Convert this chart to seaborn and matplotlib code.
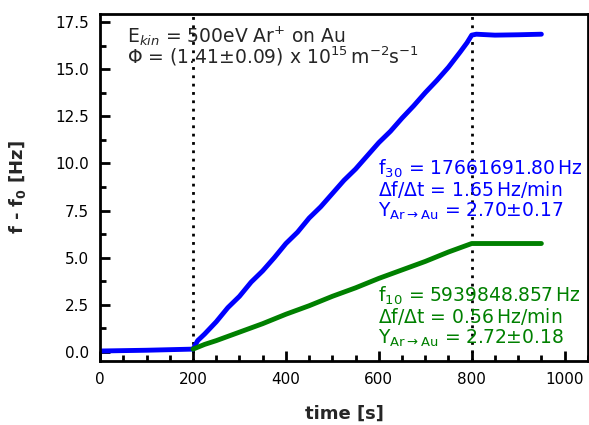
import matplotlib
matplotlib.use("Agg")
import matplotlib.pyplot as plt
import seaborn as sns
import pandas as pd
from matplotlib.ticker import MultipleLocator

# data
t_blue = [0, 50, 100, 150, 200, 210, 225, 250, 275, 300, 325, 350, 375, 400, 425, 450,
          475, 500, 525, 550, 575, 600, 625, 650, 675, 700, 725, 750, 775, 790, 800,
          810, 850, 900, 950]
f_blue = [0.05, 0.07, 0.09, 0.12, 0.15, 0.6, 0.95, 1.6, 2.35, 2.95, 3.7, 4.3, 5.0, 5.75,
          6.35, 7.1, 7.7, 8.4, 9.1, 9.7, 10.4, 11.1, 11.7, 12.4, 13.05, 13.75, 14.4,
          15.1, 15.9, 16.4, 16.8, 16.85, 16.8, 16.82, 16.85]
t_green = [200, 225, 250, 300, 350, 400, 450, 500, 550, 600, 650, 700, 750, 800, 950]
f_green = [0.15, 0.4, 0.6, 1.05, 1.5, 2.0, 2.45, 2.95, 3.4, 3.9, 4.35, 4.8, 5.3, 5.75, 5.75]
vlines = [200, 800]

text_top = [r"E$_{\mathit{kin}}$ = 500eV Ar$^{+}$ on Au",
            r"$\Phi$ = (1.41$\pm$0.09) x 10$^{15}$$\,$m$^{-2}$s$^{-1}$"]
text_blue = [r"f$_{30}$ = 17661691.80$\,$Hz",
             r"$\Delta$f/$\Delta$t = 1.65$\,$Hz/min",
             r"Y$_{\mathrm{Ar\rightarrow Au}}$ = 2.70$\pm$0.17"]
text_green = [r"f$_{10}$ = 5939848.857$\,$Hz",
              r"$\Delta$f/$\Delta$t = 0.56$\,$Hz/min",
              r"Y$_{\mathrm{Ar\rightarrow Au}}$ = 2.72$\pm$0.18"]

sns.set_style("ticks")
plt.rcParams['font.family'] = ['DejaVu Sans']
plt.rcParams['mathtext.default'] = 'regular'

fig = plt.figure(figsize=(5.89, 4.25), dpi=100)
ax = fig.add_axes([0.170, 0.1506, 0.828, 0.8164])

df_b = pd.DataFrame({"t": t_blue, "f": f_blue})
df_g = pd.DataFrame({"t": t_green, "f": f_green})
sns.lineplot(data=df_b, x="t", y="f", color="#0000ff", lw=3.5, ax=ax)
sns.lineplot(data=df_g, x="t", y="f", color="#008000", lw=3.5, ax=ax)
for v in vlines:
    ax.axvline(v, color="black", ls=(0, (1, 2)), lw=2, zorder=0)

ax.set_xlim(0, 1050)
ax.set_ylim(-0.48, 17.92)
ax.xaxis.set_major_locator(MultipleLocator(200))
ax.xaxis.set_minor_locator(MultipleLocator(50))
ax.yaxis.set_major_locator(MultipleLocator(2.5))
ax.yaxis.set_minor_locator(MultipleLocator(1.25))
ax.tick_params(which="both", direction="in", width=2, colors="black", labelsize=11,
               top=False, right=False, bottom=True, left=True)
ax.tick_params(which="major", length=7, pad=8)
ax.tick_params(which="minor", length=4)
for s in ax.spines.values():
    s.set_visible(True)
    s.set_linewidth(2)
    s.set_color("black")

ax.set_xlabel("time [s]", fontweight="bold", fontsize=13)
ax.set_ylabel(r"f - f$_0$ [Hz]", fontweight="bold", fontsize=13)
ax.yaxis.set_label_coords(-0.148, 0.5)
ax.xaxis.set_label_coords(0.5, -0.125)

fs = 13.5
for i, s in enumerate(text_top):
    ax.text(0.055, 0.916 - i * 0.058, s, transform=ax.transAxes, fontsize=fs,
            va="baseline")
for i, s in enumerate(text_blue):
    ax.text(0.570, 0.536 - i * 0.0605, s, transform=ax.transAxes, fontsize=fs,
            va="baseline", color="#0000ff")
for i, s in enumerate(text_green):
    ax.text(0.570, 0.170 - i * 0.0605, s, transform=ax.transAxes, fontsize=fs,
            va="baseline", color="#008000")

fig.savefig("out.png", dpi=100)
